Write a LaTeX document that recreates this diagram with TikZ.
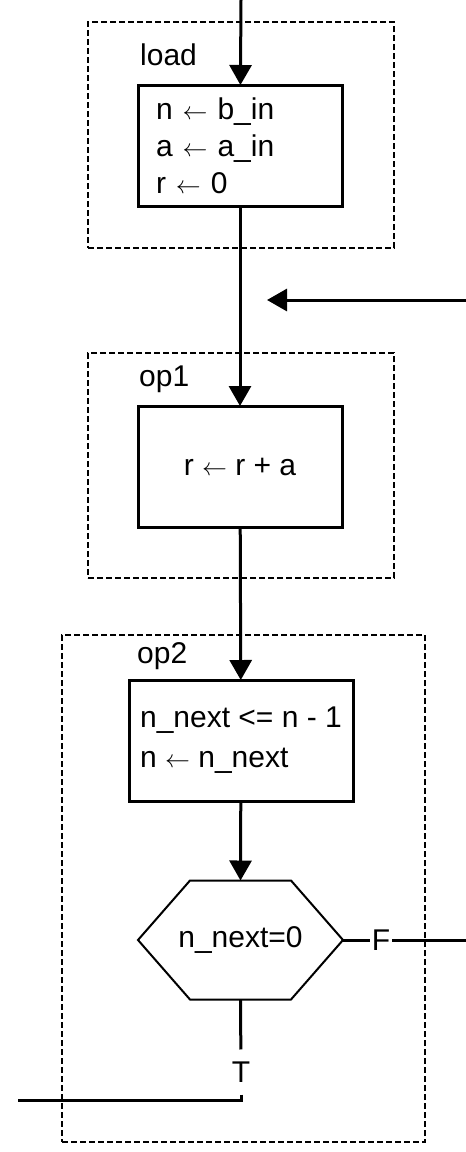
\documentclass[tikz,border=0pt]{standalone}
\usepackage{fontspec}
\setmainfont{Liberation Sans}
\usepackage{tikz}
\usetikzlibrary{arrows.meta}

\newcommand{\getsto}{\ensuremath{\leftarrow}}

\begin{document}
\begin{tikzpicture}[x=1pt, y=-1pt, >={Triangle[length=20pt, width=22pt]}, font=\fontsize{30}{37}\selectfont]
    \tikzset{group/.style = {rectangle, draw, dash pattern=on 6pt off 3pt, line width=1.5pt, inner sep=0pt}}
    \tikzset{state/.style = {rectangle, draw, line width=3pt, minimum width=204pt, minimum height=121pt, outer sep=0pt, align=left}}
    \tikzset{test/.style = {rectangle, minimum width=205pt, minimum height=119pt, inner sep=0pt, outer sep=0pt}}
    \tikzset{tag/.style = {anchor=west, inner sep=0pt}}
    \tikzset{flow/.style = {draw, line width=3pt}}
    \tikzset{arrow/.style = {flow, ->}}

    \useasboundingbox (0,0) rectangle (466,1152);

    % State groups
    \node [group, minimum width=306pt, minimum height=226pt] (loadgrp) at (241,135) {};
    \node [group, minimum width=306pt, minimum height=225pt] (op1grp) at (241,465.5) {};
    \node [group, minimum width=363pt, minimum height=507pt] (op2grp) at (243.5,888.5) {};
    \node [tag] (loadlbl) at (140,55) {load};
    \node [tag] (op1lbl) at (139,379) {op1};
    \node [tag] (op2lbl) at (137,656) {op2};

    % Blocks
    \node [state, text width=168pt, inner xsep=18pt] (load) at (240,145.5) {n \getsto{} b\_in\\ a \getsto{} a\_in\\ r \getsto{} 0};
    \node [state] (op1) at (240,466.5) {r \getsto{} r + a};
    \node [state, minimum width=224pt, font=\fontsize{30}{40}\selectfont] (op2) at (241,740.5) {n\_next <= n - 1\\ n \getsto{} n\_next};
    \node [test] (test) at (240.5,940) {n\_next=0};
    \draw [line width=2pt] (test.west) -- ([xshift=52pt]test.north west) -- ([xshift=-52pt]test.north east)
        -- (test.east) -- ([xshift=-52pt]test.south east) -- ([xshift=52pt]test.south west) -- cycle;
    \node [inner xsep=2pt, inner ysep=0pt] (F) at (381,940) {F};
    \node [inner xsep=0pt, inner ysep=12pt] (T) at (241,1072) {T};

    \coordinate (in) at (241,0);
    \coordinate (back) at (466,300);
    \coordinate (merge) at (267,300);
    \coordinate (exitF) at (466,940);
    \coordinate (exitT) at (18,1100);

    % Connections
    \draw [arrow] (in) -- (load);
    \draw [arrow] (load) -- (op1);
    \draw [arrow] (back) -- (merge);
    \draw [arrow] (op1) -- (op2);
    \draw [arrow] (op2) -- (test.north);
    \draw [flow] (test.east) -- (F);
    \draw [flow] (F) -- (exitF);
    \draw [flow] (test.south) -- (T);
    \draw [flow] (T) |- (exitT);
\end{tikzpicture}
\end{document}
